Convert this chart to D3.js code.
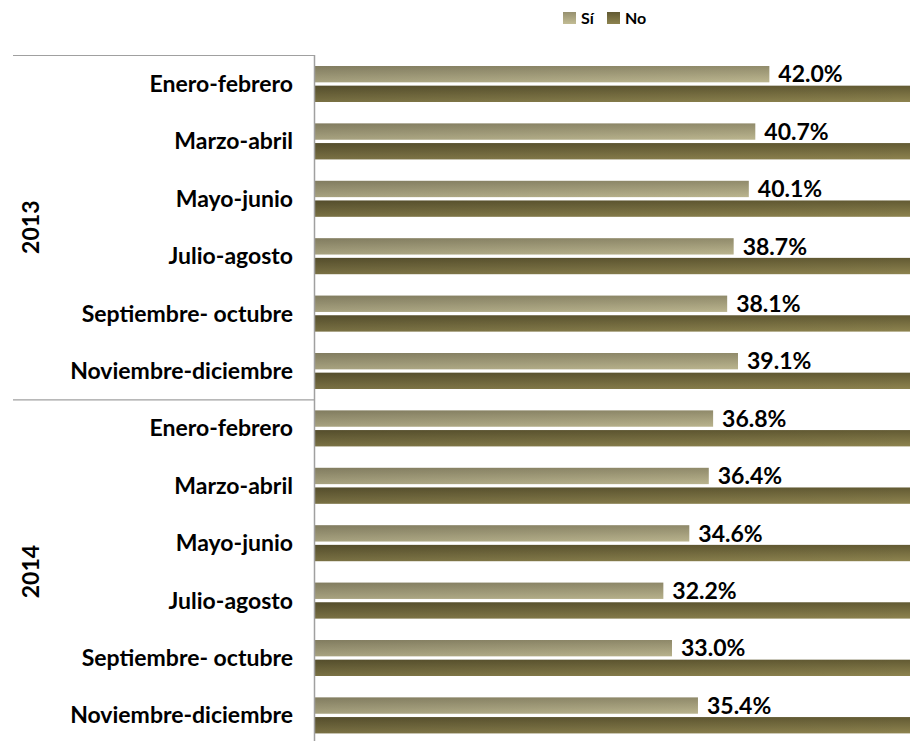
<!DOCTYPE html>
<html><head><meta charset="utf-8">
<script src="https://cdn.jsdelivr.net/npm/d3@7"></script>
<style>html,body{margin:0;padding:0;background:#fff}svg{display:block}</style>
</head><body>
<script>
const years = ["2013", "2014"];
const periods = ["Enero-febrero","Marzo-abril","Mayo-junio","Julio-agosto","Septiembre- octubre","Noviembre-diciembre"];
const siValues = [42.0, 40.7, 40.1, 38.7, 38.1, 39.1, 36.8, 36.4, 34.6, 32.2, 33.0, 35.4];
const noValues = [58.0, 59.3, 59.9, 61.3, 61.9, 60.9, 63.2, 63.6, 65.4, 67.8, 67.0, 64.6];
const seriesNames = ["Sí", "No"];

(function () {
const W = 910, H = 741;
const mLeft = 315, mTop = 55, mRight = 910, bandH = 57.4;
const rows = [];
years.forEach((y, yi) => periods.forEach((p, pi) => rows.push({key: y + "|" + pi, year: y, period: p, si: siValues[yi*6+pi], no: noValues[yi*6+pi]})));

const svg = d3.select("body").append("svg").attr("width", W).attr("height", H);
const defs = svg.append("defs");
function vgrad(id, c1, c2) {
  const g = defs.append("linearGradient").attr("id", id).attr("x1", 0).attr("y1", 0).attr("x2", 0).attr("y2", 1);
  g.append("stop").attr("offset", "0%").attr("stop-color", c1);
  g.append("stop").attr("offset", "100%").attr("stop-color", c2);
}
vgrad("gSi", "#96906f", "#c2bc94");
vgrad("gNo", "#625a33", "#8d834f");
const hg = defs.append("linearGradient").attr("id", "gShade").attr("gradientUnits", "userSpaceOnUse")
  .attr("x1", mLeft).attr("y1", 0).attr("x2", mRight).attr("y2", 0);
hg.append("stop").attr("offset", "0%").attr("stop-color", "#000").attr("stop-opacity", 0.14);
hg.append("stop").attr("offset", "100%").attr("stop-color", "#000").attr("stop-opacity", 0);
defs.append("clipPath").attr("id", "plotClip").append("rect")
  .attr("x", mLeft).attr("y", mTop).attr("width", mRight - mLeft).attr("height", H - mTop);

const x = d3.scaleLinear().domain([0, 55]).range([mLeft, mRight]);
const y = d3.scaleBand().domain(rows.map(r => r.key)).range([mTop, mTop + bandH * rows.length]).paddingInner(0).paddingOuter(0);
const ySub = d3.scaleBand().domain(seriesNames).range([11, 47]).paddingInner(0.17);

const FONT = "Lato, 'Open Sans', sans-serif";

// bars
const plot = svg.append("g").attr("clip-path", "url(#plotClip)");
rows.forEach(r => {
  const g = plot.append("g").attr("transform", `translate(0,${y(r.key)})`);
  [["Sí", r.si, "url(#gSi)"], ["No", r.no, "url(#gNo)"]].forEach(([s, v, f]) => {
    g.append("rect").attr("x", x(0)).attr("y", ySub(s)).attr("width", x(v) - x(0)).attr("height", ySub.bandwidth()).attr("fill", f);
    g.append("rect").attr("x", x(0)).attr("y", ySub(s)).attr("width", x(v) - x(0)).attr("height", ySub.bandwidth()).attr("fill", "url(#gShade)");
  });
});

// value labels
svg.append("g").selectAll("text").data(rows).join("text")
  .attr("x", d => x(d.si) + 9)
  .attr("y", d => y(d.key) + ySub("Sí") + ySub.bandwidth() / 2)
  .attr("dy", "0.36em")
  .attr("font-family", FONT).attr("font-weight", "bold").attr("font-size", 23).attr("fill", "#000")
  .text(d => d.si.toFixed(1) + "%");

// axis line
svg.append("line").attr("x1", mLeft - 0.5).attr("x2", mLeft - 0.5).attr("y1", mTop).attr("y2", H).attr("stroke", "#a0a0a0").attr("stroke-width", 1.5);

// category labels
svg.append("g").selectAll("text").data(rows).join("text")
  .attr("x", 293).attr("y", d => y(d.key) + bandH / 2)
  .attr("dy", "0.36em").attr("text-anchor", "end")
  .attr("font-family", FONT).attr("font-weight", "bold").attr("font-size", 23).attr("fill", "#000")
  .text(d => d.period);

// year separators & labels
years.forEach((yr, yi) => {
  const y0 = y(yr + "|0");
  svg.append("line").attr("x1", 13).attr("x2", mLeft).attr("y1", y0 + 0.5).attr("y2", y0 + 0.5).attr("stroke", "#a0a0a0").attr("stroke-width", 1.2);
  const yc = y0 + bandH * 3;
  svg.append("text").attr("transform", `translate(31,${yc}) rotate(-90)`)
    .attr("text-anchor", "middle").attr("dy", "0.36em")
    .attr("font-family", FONT).attr("font-weight", "bold").attr("font-size", 23).attr("fill", "#000")
    .text(yr);
});

// legend
const leg = svg.append("g");
const legItems = [{n: "Sí", f: "url(#gSi)", x: 563}, {n: "No", f: "url(#gNo)", x: 607}];
leg.selectAll("rect").data(legItems).join("rect")
  .attr("x", d => d.x).attr("y", 12).attr("width", 13).attr("height", 12).attr("fill", d => d.f);
leg.selectAll("text").data(legItems).join("text")
  .attr("x", d => d.x + 18).attr("y", 18).attr("dy", "0.36em")
  .attr("font-family", FONT).attr("font-weight", "bold").attr("font-size", 16).attr("fill", "#000")
  .text(d => d.n);
})();
</script>
</body></html>
